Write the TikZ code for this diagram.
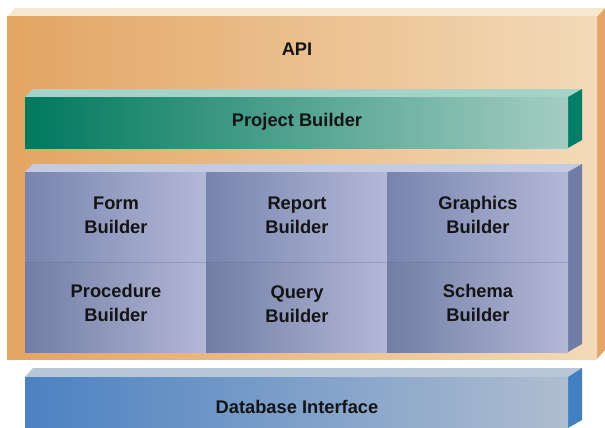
\documentclass[tikz,border=0pt]{standalone}
\usepackage{fontspec}
\setmainfont{Liberation Sans}
\definecolor{apiL}{HTML}{E3A563}
\definecolor{apiR}{HTML}{F3DAB8}
\definecolor{apiTop}{HTML}{F6E8D0}
\definecolor{apiSide}{HTML}{E3A566}
\definecolor{pbL}{HTML}{00795E}
\definecolor{pbR}{HTML}{A4CDC2}
\definecolor{pbTop}{HTML}{A6D3C8}
\definecolor{pbSide}{HTML}{007F68}
\definecolor{cellL}{HTML}{7884AE}
\definecolor{cellR}{HTML}{B3B8D7}
\definecolor{gridTop}{HTML}{C3CBE2}
\definecolor{gridSide}{HTML}{6F7CA6}
\definecolor{dbL}{HTML}{4C82C2}
\definecolor{dbR}{HTML}{AFBDD0}
\definecolor{dbTop}{HTML}{B9C6D6}
\definecolor{dbSide}{HTML}{4180C4}
\definecolor{ink}{HTML}{141414}
\tikzset{
  label/.style={font=\fontsize{18.3}{24}\selectfont\bfseries, text=ink, align=center, inner sep=0pt},
}
\begin{document}
\begin{tikzpicture}[x=1pt,y=-1pt]
\useasboundingbox (0,0) rectangle (605,428);
\fill[white] (0,0) rectangle (605,428);

% API slab
\fill[apiTop] (7,17) -- (15,8) -- (605,8) -- (597,17) -- cycle;
\fill[apiSide] (597,17) -- (605,8) -- (605,350) -- (597,359) -- cycle;
\shade[left color=apiL, right color=apiR] (7,17) rectangle (597,359);
\node[label] (api) at (297,49) {API};

% Project Builder bar
\fill[pbTop] (25,97) -- (33,89) -- (582,89) -- (568,97) -- cycle;
\fill[pbSide] (568,97) -- (582,89) -- (582,140) -- (568,148) -- cycle;
\shade[left color=pbL, right color=pbR] (25,97) rectangle (568,148);
\node[label] (pb) at (297,122) {Project Builder};

% Builder grid
\fill[gridTop] (25,172) -- (33,164) -- (582,164) -- (568,172) -- cycle;
\fill[gridSide] (568,172) -- (582,164) -- (582,344) -- (568,352) -- cycle;
\foreach \xa/\xb in {25/206, 206/387, 387/568} {
  \shade[left color=cellL, right color=cellR] (\xa,172) rectangle (\xb,262);
  \shade[left color=cellL!95!black, right color=cellR] (\xa,262) rectangle (\xb,352);
}
\draw[cellL!85!black, line width=0.6pt, opacity=0.35] (25,262) -- (568,262);

\node[label] (form)   at (116,215) {Form\\Builder};
\node[label] (report) at (297,215) {Report\\Builder};
\node[label] (graph)  at (478,215) {Graphics\\Builder};
\node[label] (proc)   at (116,303) {Procedure\\Builder};
\node[label] (query)  at (297,304) {Query\\Builder};
\node[label] (schema) at (478,303) {Schema\\Builder};

% Database Interface bar
\fill[dbTop] (25,377) -- (33,368) -- (582,368) -- (568,377) -- cycle;
\fill[dbSide] (568,377) -- (582,368) -- (582,420) -- (568,428) -- cycle;
\shade[left color=dbL, right color=dbR] (25,377) rectangle (568,428);
\node[label] (db) at (297,407) {Database Interface};
\end{tikzpicture}
\end{document}
